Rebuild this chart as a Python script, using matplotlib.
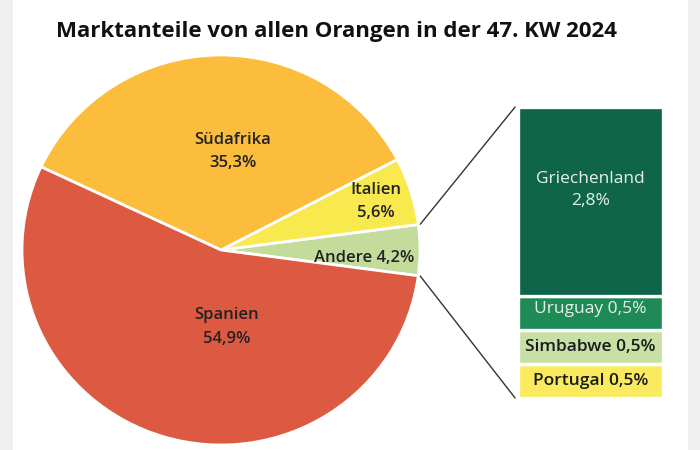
import matplotlib.pyplot as plt
from matplotlib.patches import ConnectionPatch, Rectangle
import numpy as np

plt.rcParams['font.family'] = ['Open Sans', 'DejaVu Sans']

# Tortendiagramm (gegen den Uhrzeigersinn ab rechts)
pie_labels = ['Andere', 'Italien', 'Südafrika', 'Spanien']
pie_values = [4.2, 5.6, 35.3, 54.9]
pie_colors = ['#c3dc9c', '#f8e94e', '#fbbd3b', '#dc5a41']

# Aufschlüsselung "Andere" (von unten nach oben)
bar_labels = ['Portugal', 'Simbabwe', 'Uruguay', 'Griechenland']
bar_values = [0.5, 0.5, 0.5, 2.8]
bar_colors = ['#f9ea5e', '#c8e0a6', '#1e8a55', '#0e6548']

title = 'Marktanteile von allen Orangen in der 47. KW 2024'

W, H = 700, 450
fig = plt.figure(figsize=(7, 4.5), dpi=100)
fig.patch.set_facecolor('#efefef')
fig.patches.append(Rectangle((13 / W, 0), (688 - 13) / W, 1, transform=fig.transFigure,
                             facecolor='white', edgecolor='none', zorder=-5))

# Torte
cx, cy, rx, ry = 221, 250, 199, 195
ax = fig.add_axes([(cx - rx) / W, (H - cy - ry) / H, 2 * rx / W, 2 * ry / H])
start = -7.6
wedges, _ = ax.pie(pie_values, colors=pie_colors, startangle=start, counterclock=True,
                   wedgeprops=dict(edgecolor='white', linewidth=2))
ax.set_xlim(-1, 1)
ax.set_ylim(-1, 1)
ax.set_aspect('auto')
ax.axis('off')

txt = dict(ha='center', va='center', fontsize=12, fontweight='semibold', color='#222222',
           linespacing=1.6)
pos = {
    'Südafrika': (0.06, 0.505),
    'Italien': (0.78, 0.25),
    'Spanien': (0.03, -0.395),
}
for lab, val in zip(pie_labels, pie_values):
    s = f'{val:.1f}'.replace('.', ',') + '%'
    if lab == 'Andere':
        ax.text(0.72, -0.04, f'{lab} {s}', **txt)
    else:
        x, y = pos[lab]
        ax.text(x, y, f'{lab}\n{s}', **txt)

# Balken
bx0, bx1, by0, by1 = 518, 663, 107, 398
bax = fig.add_axes([bx0 / W, (H - by1) / H, (bx1 - bx0) / W, (by1 - by0) / H])
bottom = 0
for lab, val, col in zip(bar_labels, bar_values, bar_colors):
    bax.bar(0, val, bottom=bottom, width=1, color=col, edgecolor='white', linewidth=2.4)
    s = f'{val:.1f}'.replace('.', ',') + '%'
    mid = bottom + val / 2
    if lab == 'Griechenland':
        bax.text(0, bottom + val * 0.56, f'{lab}\n{s}', ha='center', va='center',
                 fontsize=12.5, color='#e8f2ec', linespacing=1.5)
    elif lab == 'Uruguay':
        bax.text(0, mid + 0.07, f'{lab} {s}', ha='center', va='center', fontsize=12.5,
                 color='#e8f2ec')
    else:
        bax.text(0, mid, f'{lab} {s}', ha='center', va='center', fontsize=12.5,
                 fontweight='semibold', color='#1a1a1a')
    bottom += val
bax.set_xlim(-0.5, 0.5)
bax.set_ylim(0, bottom)
bax.axis('off')

# Verbindungslinien
theta1, theta2 = wedges[0].theta1, wedges[0].theta2
for theta, yb in [(theta2, bottom), (theta1, 0)]:
    xa, ya = 1.01 * np.cos(np.radians(theta)), 1.01 * np.sin(np.radians(theta))
    con = ConnectionPatch(xyA=(-0.52, yb), coordsA=bax.transData,
                          xyB=(xa, ya), coordsB=ax.transData,
                          color='#333333', linewidth=1)
    fig.add_artist(con)

fig.text(336 / W, 1 - 32 / H, title, ha='center', va='center', fontsize=16,
         fontweight='bold', color='#111111')

fig.savefig('out.png', dpi=100)
